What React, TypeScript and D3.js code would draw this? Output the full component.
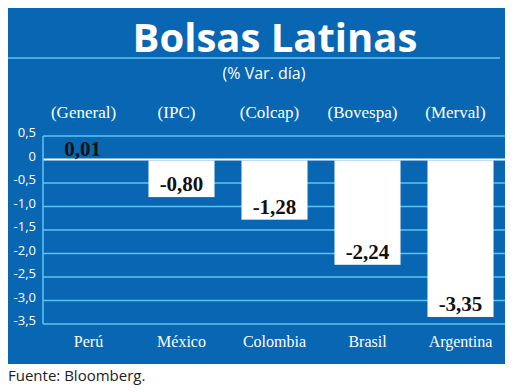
import * as d3 from 'd3'

const countries = ['Perú', 'México', 'Colombia', 'Brasil', 'Argentina']
const indices = ['(General)', '(IPC)', '(Colcap)', '(Bovespa)', '(Merval)']
const changes = [0.01, -0.8, -1.28, -2.24, -3.35]
const tickValues = [0.5, 0, -0.5, -1, -1.5, -2, -2.5, -3, -3.5]

const BLUE = '#0866b2'
const GRID = '#5cc4f2'

const fmt = (v: number) => v.toFixed(2).replace('.', ',')
const fmtTick = (v: number) => (v === 0 ? '0' : v.toFixed(1).replace('.', ','))

export default function App() {
  const width = 520
  const height = 392
  const panel = { x: 8, y: 8, w: 497, h: 356 }
  const plot = { left: 43, right: 505, top: 136, bottom: 324 }

  const x = d3.scaleBand<string>()
    .domain(countries)
    .range([42, 507])
    .paddingInner(0.29)
    .paddingOuter(0.145)

  const y = d3.scaleLinear()
    .domain([-3.5, 0.5])
    .range([plot.bottom, plot.top])

  const sans = "'Open Sans', 'DejaVu Sans', sans-serif"
  const serif = "'Liberation Serif', serif"

  return (
    <svg width={width} height={height} style={{ position: 'absolute', left: 0, top: 0, background: '#fff' }}>
      <rect x={panel.x} y={panel.y} width={panel.w} height={panel.h} fill={BLUE} />

      {/* header */}
      <text x={275} y={52} textAnchor="middle" fill="#fff" fontFamily={sans} fontWeight={700} fontSize={40}>
        Bolsas Latinas
      </text>
      <line x1={8} x2={500} y1={58} y2={58} stroke={GRID} strokeWidth={1.5} />
      <text x={264} y={79} textAnchor="middle" fill="#fff" fontFamily={sans} fontSize={16}>
        (% Var. día)
      </text>

      {indices.map((t, i) => (
        <text key={t} x={x(countries[i])! + x.bandwidth() / 2 - 5} y={118} textAnchor="middle"
          fill="#fff" fontFamily={serif} fontSize={17}>
          {t}
        </text>
      ))}

      {/* grid */}
      {tickValues.map(v => (
        <g key={v}>
          <line x1={plot.left} x2={plot.right} y1={y(v)} y2={y(v)}
            stroke={v === 0 ? '#fff' : GRID} strokeWidth={v === 0 ? 2 : 1.5} />
          <text x={36} y={y(v) - 2} textAnchor="end" dominantBaseline="middle"
            fill="#fff" fontFamily={sans} fontSize={13}>
            {fmtTick(v)}
          </text>
        </g>
      ))}
      <line x1={plot.left} x2={plot.left} y1={plot.top} y2={plot.bottom} stroke={GRID} strokeWidth={1.5} />

      {/* bars */}
      {countries.map((c, i) => {
        const v = changes[i]
        const y0 = y(0) + 1
        const y1 = y(v)
        const top = Math.min(y0, y1)
        const h = Math.abs(y1 - y0)
        const cx = x(c)! + x.bandwidth() / 2
        const labelY = v >= 0 ? y(0) - 4 : y1 - 6
        return (
          <g key={c}>
            {v < 0 && <rect x={x(c)} y={top} width={x.bandwidth()} height={h} fill="#fff" />}
            <text x={v >= 0 ? cx - 6 : cx} y={labelY} textAnchor="middle" fill="#111"
              fontFamily={serif} fontWeight={700} fontSize={21}>
              {fmt(v)}
            </text>
            <text x={cx} y={347} textAnchor="middle" fill="#fff" fontFamily={serif} fontSize={16}>
              {c}
            </text>
          </g>
        )
      })}

      <text x={8} y={381} fill="#222" fontFamily={sans} fontSize={15}>
        Fuente: Bloomberg.
      </text>
    </svg>
  )
}
